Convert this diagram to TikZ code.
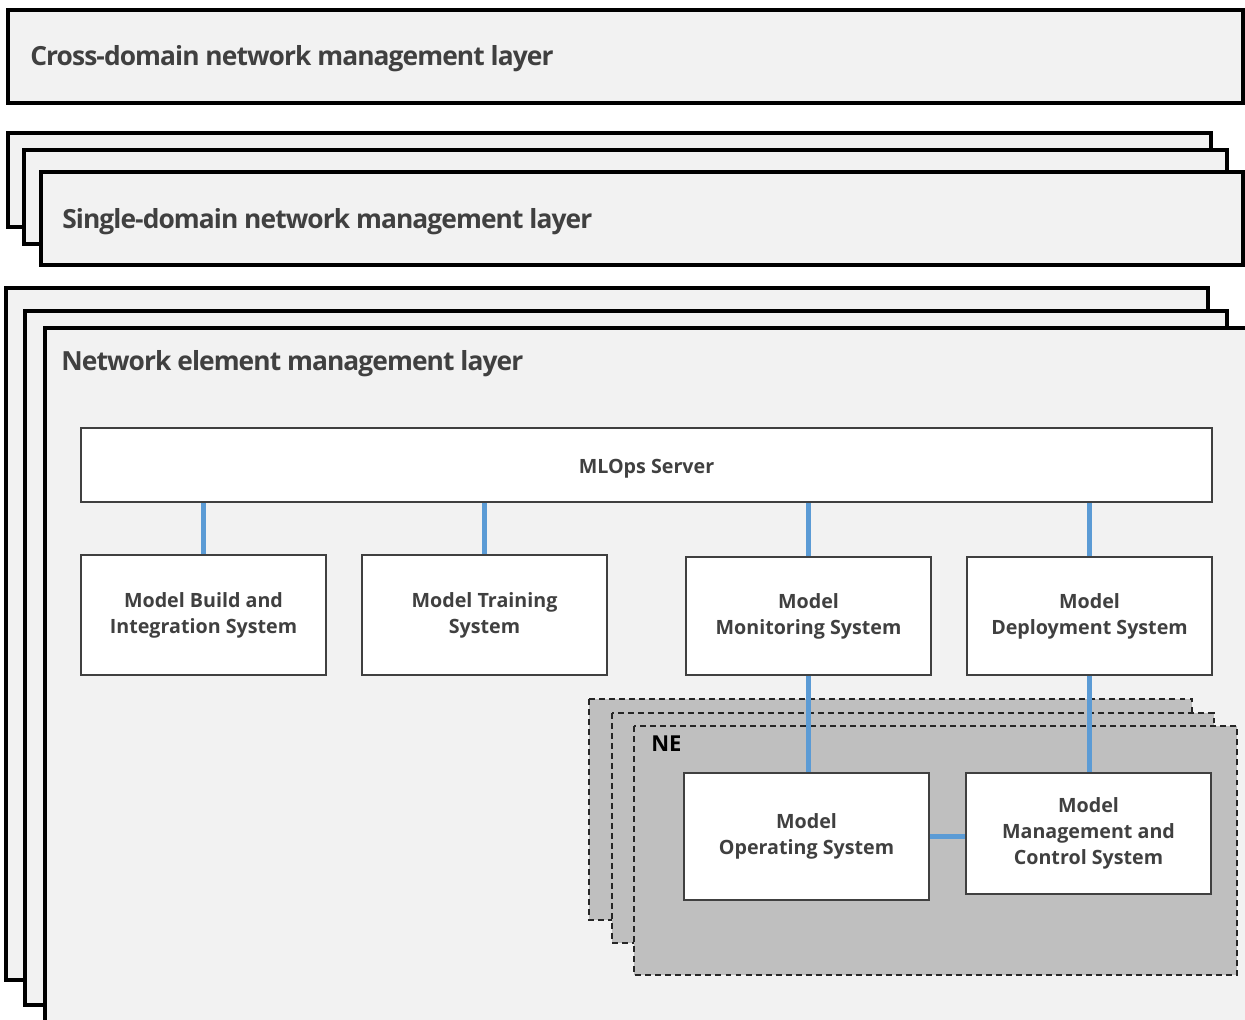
\documentclass[tikz,border=0pt]{standalone}
\usepackage{fontspec}
\setmainfont{Open Sans}
\newfontfamily\titlefont[LetterSpace=-3.5]{Open Sans}
\usepackage{tikz}
\usetikzlibrary{positioning}

\definecolor{layerfill}{HTML}{F2F2F2}
\definecolor{nefill}{HTML}{BFBFBF}
\definecolor{textgray}{HTML}{404040}
\definecolor{linkblue}{HTML}{5B9BD5}

\tikzset{
  layer/.style={draw=black, line width=2.3pt, fill=layerfill},
  nelayer/.style={draw=black!85, line width=0.9pt, dash pattern=on 3.4pt off 2.3pt, fill=nefill},
  layertitle/.style={anchor=west, inner sep=0pt, text=textgray, font=\titlefont\bfseries\fontsize{15}{18}\selectfont},
  sysbox/.style={draw=textgray, line width=1.1pt, fill=white, minimum width=4.9cm, align=center,
    text=textgray, font=\bfseries\fontsize{11.2}{14.8}\selectfont,
    execute at begin node={\rule{0pt}{1.06em}}},
  link/.style={draw=linkblue, line width=2.8pt}
}

\begin{document}
\begin{tikzpicture}[x=0.02cm, y=-0.02cm]
  \useasboundingbox (0,0) rectangle (1245,1019);
  \clip (0,0) rectangle (1245,1019);
  \fill[white] (0,0) rectangle (1245,1019);

  % cross-domain layer
  \draw[layer] (8,10) rectangle (1243,103);
  \node[layertitle] (crosstitle) at (30,59) {Cross-domain network management layer};

  % single-domain layers
  \draw[layer] (8,133) rectangle (1211,227);
  \draw[layer] (24,150) rectangle (1227,244);
  \draw[layer] (41,172) rectangle (1243,265);
  \node[layertitle] (singletitle) at (62,222) {Single-domain network management layer};

  % network element layers
  \draw[layer] (6,288) rectangle (1208,980);
  \draw[layer] (25,311) rectangle (1227,1005);
  \draw[layer] (45,328) rectangle (1265,1040);
  \node[layertitle] (netitle) at (61,364) {Network element management layer};

  % MLOps server and systems
  \node[sysbox, minimum width=22.62cm, minimum height=1.48cm] (mlops) at (646.5,465) {MLOps Server};
  \node[sysbox, minimum height=2.4cm] (build) at (203.5,615) {Model Build and\\Integration System};
  \node[sysbox, minimum height=2.4cm] (training) at (484.5,615) {Model Training\\System};
  \node[sysbox, minimum height=2.36cm] (monitoring) at (808.5,616) {Model\\Monitoring System};
  \node[sysbox, minimum height=2.36cm] (deploy) at (1089.5,616) {Model\\Deployment System};

  % NE stack
  \draw[nelayer] (589,699) rectangle (1192,920);
  \draw[nelayer] (612,713) rectangle (1214,943);
  \draw[nelayer] (634,726) rectangle (1237,975);
  \node[anchor=west, inner sep=0pt, font=\bfseries\fontsize{12.5}{15}\selectfont] (ne) at (651,744) {NE};

  \node[sysbox, minimum height=2.54cm] (operating) at (806.5,836.5) {Model\\Operating System};
  \node[sysbox, minimum height=2.42cm] (control) at (1088.5,833.5) {Model\\Management and\\Control System};

  % connectors
  \foreach \sys in {build, training, monitoring, deploy}{
    \draw[link] (\sys.north) -- (\sys.north |- mlops.south);
  };
  \draw[link] (monitoring.south) -- (monitoring.south |- operating.north);
  \draw[link] (deploy.south) -- (deploy.south |- control.north);
  \draw[link] (operating.east) -- (operating.east -| control.west);

\end{tikzpicture}
\end{document}
